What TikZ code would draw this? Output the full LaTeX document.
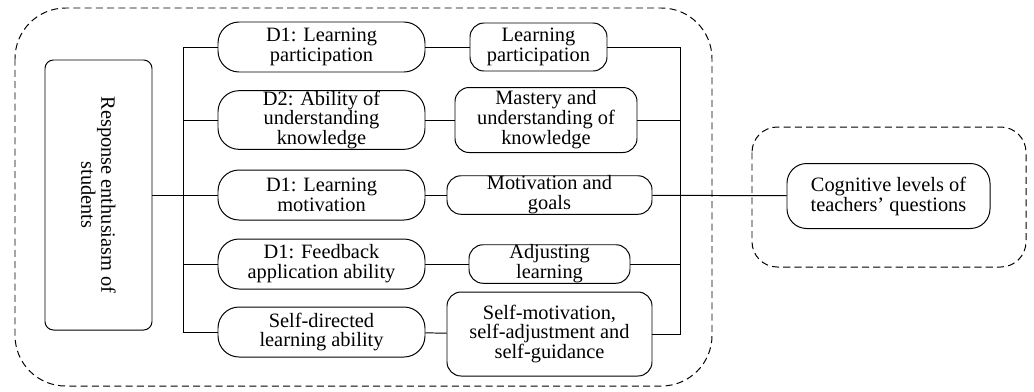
\documentclass[tikz,border=0pt]{standalone}
\usepackage{fontspec}
\setmainfont{Liberation Serif}
\usetikzlibrary{positioning}

\tikzset{
    dimbox/.style = {draw, rounded corners=15pt, align=center, minimum width=207*0.025cm, minimum height=50*0.025cm, inner sep=0pt},
    resbox/.style = {draw, rounded corners=10pt, align=center, inner sep=0pt},
    link/.style = {line width=0.7pt},
    group/.style = {draw, dashed, dash pattern=on 5pt off 3pt, line width=0.7pt}
}

\begin{document}
\begin{tikzpicture}[x=0.025cm, y=-0.025cm, line width=0.7pt, font=\fontsize{14.5}{14.2}\selectfont]
    \useasboundingbox (0,0) rectangle (1034,391);

    % dashed groups
    \draw[group, rounded corners=36pt] (15,8) rectangle (712,386);
    \draw[group, rounded corners=18pt] (752,127) rectangle (1026,267);

    % left block, text turned on its side
    \node[draw, rounded corners=6pt, rotate=-90, align=center, minimum width=270*0.025cm, minimum height=107*0.025cm] (resp) at (98.5,195) {Response enthusiasm of\\students};

    % dimensions
    \node[dimbox] (d1) at (321.5,47)  {D1: Learning\\participation};
    \node[dimbox, minimum height=53*0.025cm] (d2) at (321.5,120) {D2: Ability of\\understanding\\knowledge};
    \node[dimbox] (d3) at (321.5,195) {D1: Learning\\motivation};
    \node[dimbox] (d4) at (321.5,264) {D1: Feedback\\application ability};
    \node[dimbox] (d5) at (321.5,332) {Self-directed\\learning ability};

    % what each dimension shows
    \node[resbox, minimum width=137*0.025cm, minimum height=48*0.025cm] (r1) at (538.5,47)  {Learning\\participation};
    \node[resbox, minimum width=182*0.025cm, minimum height=65*0.025cm] (r2) at (546,120)  {Mastery and\\understanding of\\knowledge};
    \node[resbox, minimum width=205*0.025cm, minimum height=38*0.025cm] (r3) at (549.5,195) {Motivation and\\goals};
    \node[resbox, minimum width=161*0.025cm, minimum height=38*0.025cm] (r4) at (549.5,264) {Adjusting\\learning};
    \node[resbox, minimum width=205*0.025cm, minimum height=84*0.025cm] (r5) at (549.5,334) {Self-motivation,\\self-adjustment and\\self-guidance};

    \node[resbox, rounded corners=14pt, minimum width=203*0.025cm, minimum height=65*0.025cm] (cog) at (888.5,196) {Cognitive levels of\\teachers' questions};

    % trunks
    \coordinate (lt) at (183,0);
    \coordinate (rt) at (680,0);
    \draw[link] (d1.west) -| (lt |- d5.west) -- (d5.west);
    \draw[link] (d2.west) -- (d2.west -| lt);
    \draw[link] (d4.west) -- (d4.west -| lt);
    \draw[link] (r1.east) -| (rt |- r5.east) -- (r5.east);
    \draw[link] (r2.east) -- (r2.east -| rt);
    \draw[link] (r4.east) -- (r4.east -| rt);

    \draw[link] (resp) -- (d3);
    \draw[link] (d1) -- (r1);
    \draw[link] (d2) -- (r2);
    \draw[link] (d3) -- (r3);
    \draw[link] (d4) -- (r4);
    \draw[link] (d5) -- (r5);
    \draw[link] (r3) -- (cog);
\end{tikzpicture}
\end{document}
